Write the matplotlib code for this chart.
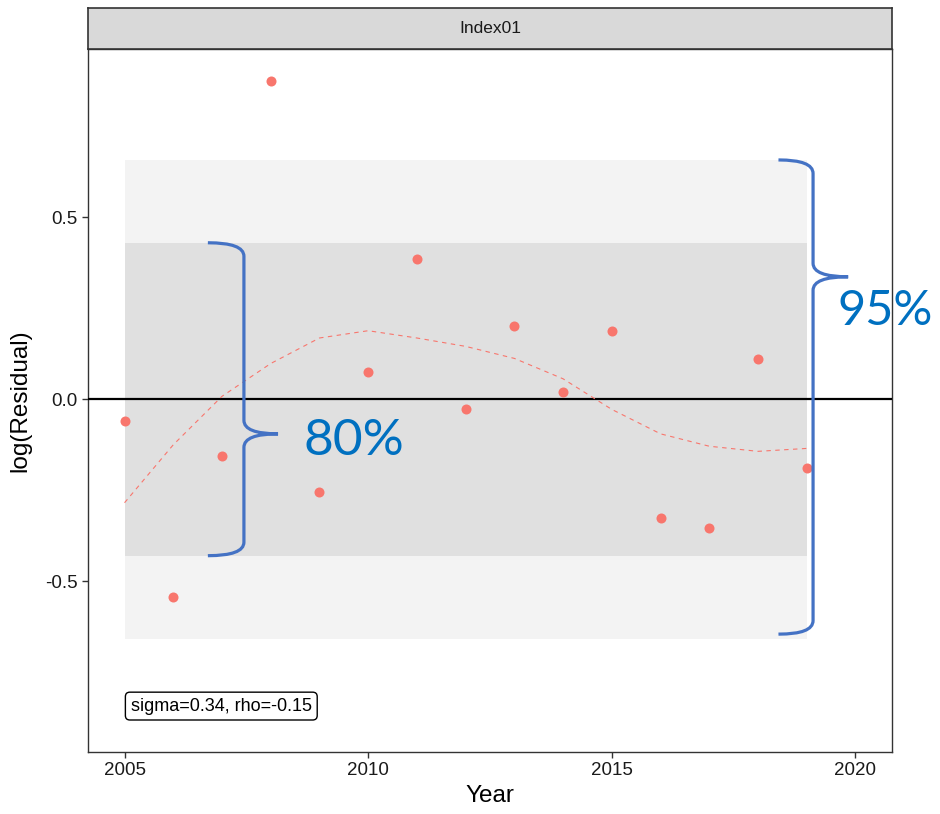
import numpy as np
import matplotlib
matplotlib.use("agg")
from matplotlib import pyplot as plt
from matplotlib.path import Path
from matplotlib.patches import PathPatch

plt.rcParams["font.family"] = ["Liberation Sans", "DejaVu Sans"]

# residual series
years = np.arange(2005, 2020)
residuals = [-0.061, -0.544, -0.155, 0.874, -0.255, 0.076, 0.385, -0.028,
             0.202, 0.020, 0.187, -0.326, -0.352, 0.110, -0.190]
# smoothed trend at each year
trend = [-0.284, -0.125, 0.008, 0.098, 0.168, 0.188, 0.168, 0.145,
         0.112, 0.056, -0.028, -0.095, -0.129, -0.143, -0.135]
sigma = 0.335
rho = -0.15
facet = "Index01"
x_ticks = [2005, 2010, 2015, 2020]
y_ticks = [-0.5, 0.0, 0.5]

z80, z95 = 1.2816, 1.96


def brace(ax, x_end, x_v, x_tip, y_top, y_bot, y_mid, r=0.037, **kw):
    verts = [(x_end, y_top), (x_v, y_top), (x_v, y_top - r),
             (x_v, y_mid + r), (x_v, y_mid), (x_tip, y_mid),
             (x_tip, y_mid), (x_v, y_mid), (x_v, y_mid - r),
             (x_v, y_bot + r), (x_v, y_bot), (x_end, y_bot)]
    codes = [Path.MOVETO, Path.CURVE3, Path.CURVE3,
             Path.LINETO, Path.CURVE3, Path.CURVE3,
             Path.MOVETO, Path.CURVE3, Path.CURVE3,
             Path.LINETO, Path.CURVE3, Path.CURVE3]
    ax.add_patch(PathPatch(Path(verts, codes), fill=False, clip_on=False, **kw))


fig = plt.figure(figsize=(9.4, 8.14), dpi=100)
ax = fig.add_axes([88 / 940, 62 / 814, 804 / 940, 703 / 814])
strip = fig.add_axes([88 / 940, 765 / 814, 804 / 940, 41 / 814])

ax.fill_between(years, -z95 * sigma, z95 * sigma, color="#F3F3F3", lw=0, zorder=1)
ax.fill_between(years, -z80 * sigma, z80 * sigma, color="#E0E0E0", lw=0, zorder=2)
ax.axhline(0, color="black", lw=1.6, zorder=3)

ax.plot(years, trend, color="#F8766D", lw=0.8, ls=(0, (4, 4)), zorder=4)
ax.scatter(years, residuals, s=52, color="#F8766D", lw=0, zorder=5)

ax.annotate(f"sigma={sigma:.2f}, rho={rho:.2f}", xy=(2005, -0.842), xytext=(4.5, 0),
            textcoords="offset points", ha="left", va="center", fontsize=13,
            color="black",
            bbox=dict(boxstyle="round,pad=0.3,rounding_size=0.25", fc="white",
                      ec="black", lw=1), zorder=6)

# interval braces
blue = "#4472C4"
brace(ax, 2006.71, 2007.45, 2008.15, z80 * sigma, -z80 * sigma, -0.095,
      color=blue, lw=2.3, zorder=7)
brace(ax, 2018.42, 2019.13, 2019.85, z95 * sigma, -z95 * sigma + 0.012, 0.336,
      color=blue, lw=2.3, zorder=7)
ax.text(2008.67, -0.153, "80%", color="#0070C0", fontsize=37, family="Lato",
        ha="left", va="baseline", zorder=8)
ax.text(2019.63, 0.204, "95%", color="#0070C0", fontsize=35, family="Lato",
        ha="left", va="baseline", zorder=8, clip_on=False)

ax.set_xlim(2004.25, 2020.75)
ax.set_ylim(-0.968, 0.961)
ax.set_xticks(x_ticks)
ax.set_xticklabels([str(t) for t in x_ticks])
ax.set_yticks(y_ticks)
ax.set_yticklabels([f"{t:.1f}" for t in y_ticks])
ax.tick_params(direction="out", length=4.5, width=1, color="#333333",
               labelsize=13.5, labelcolor="#1A1A1A", pad=3)
for s in ax.spines.values():
    s.set_color("#333333")
    s.set_linewidth(1)
ax.set_xlabel("Year", fontsize=17.5, labelpad=4)
ax.set_ylabel("log(Residual)", fontsize=17.5, labelpad=10)

strip.set_facecolor("#D9D9D9")
strip.set_xticks([])
strip.set_yticks([])
for s in strip.spines.values():
    s.set_color("#333333")
    s.set_linewidth(1.2)
strip.text(0.5, 0.5, facet, transform=strip.transAxes, ha="center", va="center",
           fontsize=12.5, color="#1A1A1A")

fig.savefig("out.png", dpi=100)
